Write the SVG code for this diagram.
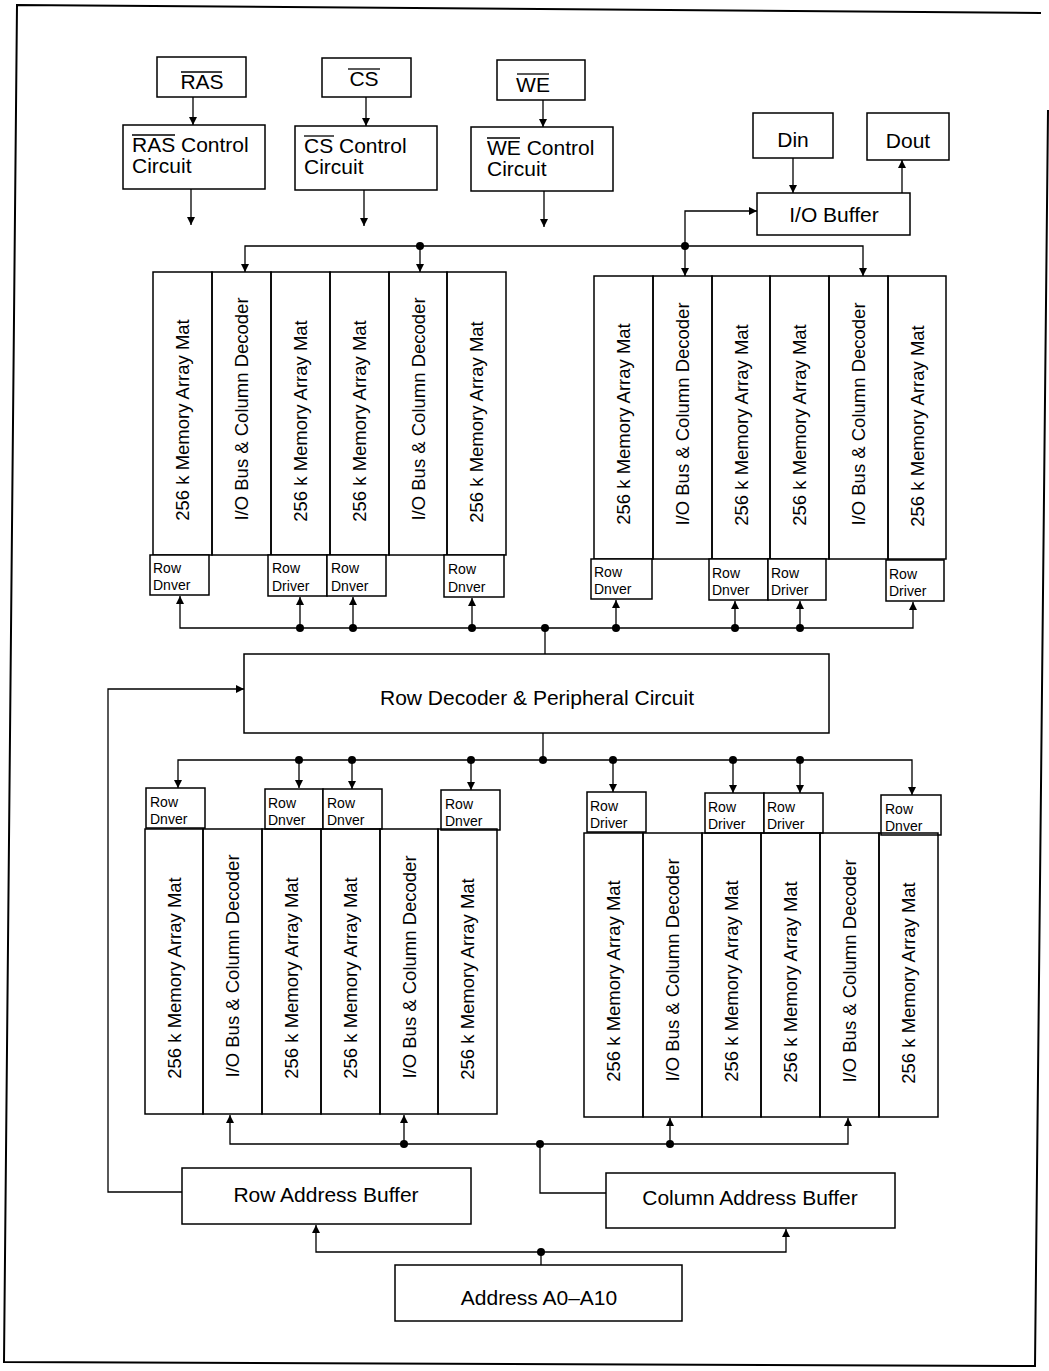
<svg xmlns="http://www.w3.org/2000/svg" width="1049" height="1371" viewBox="0 0 1049 1371">
<style>
.box{fill:#fff;stroke:#000;stroke-width:1.5}
.col{fill:none;stroke:#000;stroke-width:1.5}
.ln{fill:none;stroke:#000;stroke-width:1.3}
.ov{stroke:#000;stroke-width:1.3}
.frame{fill:none;stroke:#000;stroke-width:2}
text{font-family:"Liberation Sans",Arial,Helvetica,sans-serif;fill:#000}
.lb{font-size:21px}
.lbc{font-size:21px;text-anchor:middle}
.cl{font-size:18.5px;text-anchor:middle;dominant-baseline:central}
.rd{font-size:14px}
</style>
<defs>
<marker id="ah" markerUnits="userSpaceOnUse" markerWidth="8" markerHeight="8" refX="8" refY="4" orient="auto">
<path d="M0,0 L8,4 L0,8 z" fill="#000"/>
</marker>
</defs>
<rect width="1049" height="1371" fill="#fff"/>
<path class="frame" d="M1041,13 L17,5 L4,1362 L1035,1366 L1048,110"/>

<g id="connectors">
<!-- control arrows -->
<path class="ln" marker-end="url(#ah)" d="M193,97 V125"/>
<path class="ln" marker-end="url(#ah)" d="M366,97 V126"/>
<path class="ln" marker-end="url(#ah)" d="M543,100 V127"/>
<path class="ln" marker-end="url(#ah)" d="M191,189 V225"/>
<path class="ln" marker-end="url(#ah)" d="M364,190 V226"/>
<path class="ln" marker-end="url(#ah)" d="M544,191 V227"/>
<!-- Din / Dout -->
<path class="ln" marker-end="url(#ah)" d="M793,158 V193"/>
<path class="ln" marker-end="url(#ah)" d="M902,193 V160"/>
<!-- top data bus -->
<path class="ln" marker-end="url(#ah)" d="M685,246 V211 H757"/>
<path class="ln" marker-end="url(#ah)" d="M245,272 M685,246 H245 V272"/>
<path class="ln" marker-end="url(#ah)" d="M685,246 H863 V276"/>
<path class="ln" marker-end="url(#ah)" d="M420,246 V272"/>
<path class="ln" marker-end="url(#ah)" d="M685,246 V276"/>
<circle cx="420" cy="246" r="4"/>
<circle cx="685" cy="246" r="4"/>
<!-- upper row driver bus -->
<path class="ln" marker-end="url(#ah)" d="M545,628 H180 V596"/>
<path class="ln" marker-end="url(#ah)" d="M545,628 H913 V602"/>
<path class="ln" d="M545,628 V654"/>
<path class="ln" marker-end="url(#ah)" d="M300,628 V597"/>
<path class="ln" marker-end="url(#ah)" d="M353,628 V597"/>
<path class="ln" marker-end="url(#ah)" d="M472,628 V598"/>
<path class="ln" marker-end="url(#ah)" d="M616,628 V600"/>
<path class="ln" marker-end="url(#ah)" d="M735,628 V601"/>
<path class="ln" marker-end="url(#ah)" d="M800,628 V601"/>
<circle cx="300" cy="628" r="4"/>
<circle cx="353" cy="628" r="4"/>
<circle cx="472" cy="628" r="4"/>
<circle cx="545" cy="628" r="4"/>
<circle cx="616" cy="628" r="4"/>
<circle cx="735" cy="628" r="4"/>
<circle cx="800" cy="628" r="4"/>
<!-- lower row driver bus -->
<path class="ln" d="M543,733 V760"/>
<path class="ln" marker-end="url(#ah)" d="M543,760 H178 V788"/>
<path class="ln" marker-end="url(#ah)" d="M543,760 H912 V795"/>
<path class="ln" marker-end="url(#ah)" d="M299,760 V788"/>
<path class="ln" marker-end="url(#ah)" d="M352,760 V789"/>
<path class="ln" marker-end="url(#ah)" d="M471,760 V790"/>
<path class="ln" marker-end="url(#ah)" d="M613,760 V792"/>
<path class="ln" marker-end="url(#ah)" d="M733,760 V793"/>
<path class="ln" marker-end="url(#ah)" d="M800,760 V793"/>
<circle cx="299" cy="760" r="4"/>
<circle cx="352" cy="760" r="4"/>
<circle cx="471" cy="760" r="4"/>
<circle cx="543" cy="760" r="4"/>
<circle cx="613" cy="760" r="4"/>
<circle cx="733" cy="760" r="4"/>
<circle cx="800" cy="760" r="4"/>
<!-- row address feedback -->
<path class="ln" marker-end="url(#ah)" d="M182,1192 H108 V689 H244"/>
<!-- column decoder bus -->
<path class="ln" marker-end="url(#ah)" d="M540,1144 H230 V1115"/>
<path class="ln" marker-end="url(#ah)" d="M540,1144 H848 V1118"/>
<path class="ln" marker-end="url(#ah)" d="M404,1144 V1115"/>
<path class="ln" marker-end="url(#ah)" d="M670,1144 V1118"/>
<path class="ln" d="M540,1144 V1193 H606"/>
<circle cx="404" cy="1144" r="4"/>
<circle cx="540" cy="1144" r="4"/>
<circle cx="670" cy="1144" r="4"/>
<!-- address -->
<path class="ln" d="M541,1265 V1252"/>
<path class="ln" marker-end="url(#ah)" d="M541,1252 H316 V1225"/>
<path class="ln" marker-end="url(#ah)" d="M541,1252 H786 V1229"/>
<circle cx="541" cy="1252" r="4"/>
</g>

<g id="ras">
<rect class="box" x="157" y="57" width="89" height="40"/>
<text class="lbc" x="202" y="89">RAS</text>
<line class="ov" x1="181" y1="72" x2="222" y2="72"/>
</g>
<g id="cs">
<rect class="box" x="322" y="58" width="89" height="39"/>
<text class="lbc" x="364" y="86">CS</text>
<line class="ov" x1="348" y1="69" x2="380" y2="69"/>
</g>
<g id="we">
<rect class="box" x="497" y="60" width="88" height="40"/>
<text class="lbc" x="533" y="92">WE</text>
<line class="ov" x1="517" y1="74" x2="549" y2="74"/>
</g>
<g id="ras-control">
<rect class="box" x="123" y="125" width="142" height="64"/>
<text class="lb" x="132" y="152">RAS Control</text>
<text class="lb" x="132" y="173">Circuit</text>
<line class="ov" x1="132" y1="135" x2="175" y2="135"/>
</g>
<g id="cs-control">
<rect class="box" x="295" y="126" width="142" height="64"/>
<text class="lb" x="304" y="153">CS Control</text>
<text class="lb" x="304" y="174">Circuit</text>
<line class="ov" x1="304" y1="136" x2="334" y2="136"/>
</g>
<g id="we-control">
<rect class="box" x="471" y="127" width="142" height="64"/>
<text class="lb" x="487" y="155">WE Control</text>
<text class="lb" x="487" y="176">Circuit</text>
<line class="ov" x1="487" y1="138" x2="520" y2="138"/>
</g>
<g id="din">
<rect class="box" x="753" y="113" width="80" height="45"/>
<text class="lbc" x="793" y="147">Din</text>
</g>
<g id="dout">
<rect class="box" x="867" y="113" width="82" height="47"/>
<text class="lbc" x="908" y="148">Dout</text>
</g>
<g id="io-buffer">
<rect class="box" x="757" y="193" width="153" height="42"/>
<text class="lbc" x="834" y="222">I/O Buffer</text>
</g>

<g id="block-top-left">
<rect class="col" x="153" y="272" width="59" height="283"/>
<rect class="col" x="212" y="272" width="59" height="283"/>
<rect class="col" x="271" y="272" width="59" height="283"/>
<rect class="col" x="330" y="272" width="59" height="283"/>
<rect class="col" x="389" y="272" width="58" height="283"/>
<rect class="col" x="447" y="272" width="59" height="283"/>
<text class="cl" transform="rotate(-90 182.5 420)" x="182.5" y="420">256 k Memory Array Mat</text>
<text class="cl" transform="rotate(-90 241.5 409)" x="241.5" y="409">I/O Bus &amp; Column Decoder</text>
<text class="cl" transform="rotate(-90 300.5 421)" x="300.5" y="421">256 k Memory Array Mat</text>
<text class="cl" transform="rotate(-90 359.5 421)" x="359.5" y="421">256 k Memory Array Mat</text>
<text class="cl" transform="rotate(-90 418 409)" x="418" y="409">I/O Bus &amp; Column Decoder</text>
<text class="cl" transform="rotate(-90 476.5 422)" x="476.5" y="422">256 k Memory Array Mat</text>
<rect class="box" x="150" y="555" width="59" height="40"/>
<text class="rd" x="153" y="573">Row</text><text class="rd" x="153" y="590">Dnver</text>
<rect class="box" x="268" y="555" width="59" height="41"/>
<text class="rd" x="272" y="573">Row</text><text class="rd" x="272" y="591">Driver</text>
<rect class="box" x="327" y="555" width="59" height="41"/>
<text class="rd" x="331" y="573">Row</text><text class="rd" x="331" y="591">Dnver</text>
<rect class="box" x="444" y="555" width="60" height="42"/>
<text class="rd" x="448" y="574">Row</text><text class="rd" x="448" y="592">Dnver</text>
</g>

<g id="block-top-right">
<rect class="col" x="594" y="276" width="59" height="283"/>
<rect class="col" x="653" y="276" width="59" height="283"/>
<rect class="col" x="712" y="276" width="58" height="283"/>
<rect class="col" x="770" y="276" width="59" height="283"/>
<rect class="col" x="829" y="276" width="59" height="283"/>
<rect class="col" x="888" y="276" width="58" height="283"/>
<text class="cl" transform="rotate(-90 623.5 424)" x="623.5" y="424">256 k Memory Array Mat</text>
<text class="cl" transform="rotate(-90 682.5 414)" x="682.5" y="414">I/O Bus &amp; Column Decoder</text>
<text class="cl" transform="rotate(-90 741 425)" x="741" y="425">256 k Memory Array Mat</text>
<text class="cl" transform="rotate(-90 799.5 425)" x="799.5" y="425">256 k Memory Array Mat</text>
<text class="cl" transform="rotate(-90 858.5 414)" x="858.5" y="414">I/O Bus &amp; Column Decoder</text>
<text class="cl" transform="rotate(-90 917 426)" x="917" y="426">256 k Memory Array Mat</text>
<rect class="box" x="591" y="559" width="61" height="40"/>
<text class="rd" x="594" y="577">Row</text><text class="rd" x="594" y="594">Dnver</text>
<rect class="box" x="709" y="559" width="59" height="41"/>
<text class="rd" x="712" y="578">Row</text><text class="rd" x="712" y="595">Dnver</text>
<rect class="box" x="768" y="559" width="58" height="41"/>
<text class="rd" x="771" y="578">Row</text><text class="rd" x="771" y="595">Driver</text>
<rect class="box" x="886" y="560" width="58" height="41"/>
<text class="rd" x="889" y="579">Row</text><text class="rd" x="889" y="596">Driver</text>
</g>

<g id="row-decoder">
<rect class="box" x="244" y="654" width="585" height="79"/>
<text class="lbc" x="537" y="705">Row Decoder &amp; Peripheral Circuit</text>
</g>

<g id="block-bottom-left">
<rect class="box" x="146" y="788" width="59" height="40"/>
<text class="rd" x="150" y="807">Row</text><text class="rd" x="150" y="824">Dnver</text>
<rect class="box" x="265" y="789" width="58" height="40"/>
<text class="rd" x="268" y="808">Row</text><text class="rd" x="268" y="825">Dnver</text>
<rect class="box" x="323" y="789" width="59" height="40"/>
<text class="rd" x="327" y="808">Row</text><text class="rd" x="327" y="825">Dnver</text>
<rect class="box" x="441" y="790" width="59" height="40"/>
<text class="rd" x="445" y="809">Row</text><text class="rd" x="445" y="826">Dnver</text>
<rect class="col" x="145" y="829" width="58" height="285"/>
<rect class="col" x="203" y="829" width="59" height="285"/>
<rect class="col" x="262" y="829" width="59" height="285"/>
<rect class="col" x="321" y="829" width="59" height="285"/>
<rect class="col" x="380" y="829" width="58" height="285"/>
<rect class="col" x="438" y="829" width="59" height="285"/>
<text class="cl" transform="rotate(-90 174 978)" x="174" y="978">256 k Memory Array Mat</text>
<text class="cl" transform="rotate(-90 232.5 966)" x="232.5" y="966">I/O Bus &amp; Column Decoder</text>
<text class="cl" transform="rotate(-90 291.5 978)" x="291.5" y="978">256 k Memory Array Mat</text>
<text class="cl" transform="rotate(-90 350.5 978)" x="350.5" y="978">256 k Memory Array Mat</text>
<text class="cl" transform="rotate(-90 409 967)" x="409" y="967">I/O Bus &amp; Column Decoder</text>
<text class="cl" transform="rotate(-90 467.5 979)" x="467.5" y="979">256 k Memory Array Mat</text>
</g>

<g id="block-bottom-right">
<rect class="box" x="587" y="792" width="59" height="40"/>
<text class="rd" x="590" y="811">Row</text><text class="rd" x="590" y="828">Driver</text>
<rect class="box" x="705" y="793" width="59" height="40"/>
<text class="rd" x="708" y="812">Row</text><text class="rd" x="708" y="829">Driver</text>
<rect class="box" x="764" y="793" width="59" height="40"/>
<text class="rd" x="767" y="812">Row</text><text class="rd" x="767" y="829">Driver</text>
<rect class="box" x="881" y="795" width="60" height="40"/>
<text class="rd" x="885" y="814">Row</text><text class="rd" x="885" y="831">Dnver</text>
<rect class="col" x="584" y="833" width="59" height="284"/>
<rect class="col" x="643" y="833" width="59" height="284"/>
<rect class="col" x="702" y="833" width="59" height="284"/>
<rect class="col" x="761" y="833" width="59" height="284"/>
<rect class="col" x="820" y="833" width="59" height="284"/>
<rect class="col" x="879" y="833" width="59" height="284"/>
<text class="cl" transform="rotate(-90 613.5 981)" x="613.5" y="981">256 k Memory Array Mat</text>
<text class="cl" transform="rotate(-90 672.5 970)" x="672.5" y="970">I/O Bus &amp; Column Decoder</text>
<text class="cl" transform="rotate(-90 731.5 981)" x="731.5" y="981">256 k Memory Array Mat</text>
<text class="cl" transform="rotate(-90 790.5 982)" x="790.5" y="982">256 k Memory Array Mat</text>
<text class="cl" transform="rotate(-90 849.5 971)" x="849.5" y="971">I/O Bus &amp; Column Decoder</text>
<text class="cl" transform="rotate(-90 908.5 983)" x="908.5" y="983">256 k Memory Array Mat</text>
</g>

<g id="row-address-buffer">
<rect class="box" x="182" y="1168" width="289" height="56"/>
<text class="lbc" x="326" y="1202">Row Address Buffer</text>
</g>
<g id="column-address-buffer">
<rect class="box" x="606" y="1173" width="289" height="55"/>
<text class="lbc" x="750" y="1205">Column Address Buffer</text>
</g>
<g id="address">
<rect class="box" x="395" y="1265" width="287" height="56"/>
<text class="lbc" x="539" y="1305">Address A0–A10</text>
</g>
</svg>
